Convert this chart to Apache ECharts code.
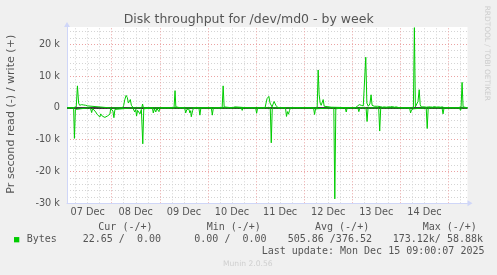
<!DOCTYPE html>
<html><head><meta charset="utf-8">
<script src="https://cdn.jsdelivr.net/npm/echarts@6/dist/echarts.min.js"></script>
<style>html,body{margin:0;padding:0;background:#f0f0f0;}#c{width:497px;height:275px;}</style>
</head><body><div id="c"></div>
<script>
// ---- text ----
const titleText = 'Disk throughput for /dev/md0 - by week';
const yAxisTitle = 'Pr second read (-) / write (+)';
const dayLabels = ['07 Dec','08 Dec','09 Dec','10 Dec','11 Dec','12 Dec','13 Dec','14 Dec'];
const dayLabelHours = [12,36,60,84,108,132,156,180]; // hours since 07 Dec 00:00 (label at noon)
const legendName = 'Bytes';
const legendHeaders = ['Cur (-/+)','Min (-/+)','Avg (-/+)','Max (-/+)'];
const legendValues = ['22.65 /  0.00','0.00 /  0.00','505.86 /376.52','173.12k/ 58.88k'];
const lastUpdate = 'Last update: Mon Dec 15 09:00:07 2025';
const muninVersion = 'Munin 2.0.56';
const rrdWatermark = 'RRDTOOL / TOBI OETIKER';

// ---- data (x: hours since 07 Dec 00:00, y: bytes per second) ----
const writeHours = [1.7,2.5,3.5,4.0,4.5,6.3,6.9,7.5,8.0,8.5,9.0,9.5,10.0,10.5,11.0,11.5,12.0,12.5,
 23.0,23.5,24.0,
 29.5,30.0,30.5,31.2,31.8,32.3,32.8,33.3,33.8,34.3,34.8,
 39.0,39.4,39.8,
 52.0,52.2,52.6,
 55.1,55.6,56.0,56.5,57.0,57.5,58.0,
 79.1,79.6,80.1,80.6,
 84.0,84.5,85.5,86.0,
 92.2,92.5,92.8,
 100.5,101.0,101.5,102.0,102.4,103.0,103.4,104.0,104.5,105.0,105.4,105.9,106.6,107.0,
 115.0,115.5,116.0,
 126.5,127.0,127.5,128.0,128.5,129.0,129.5,130.0,130.5,133.5,134.0,
 145.5,146.0,146.5,147.0,147.5,148.0,148.5,149.0,149.5,150.3,150.75,151.3,152.0,152.8,153.4,153.9,154.5,155.0,155.5,156.5,157.0,158.0,159.0,160.0,161.0,162.0,163.0,164.0,165.0,166.0,167.0,168.0,
 174.5,175.0,175.5,176.0,176.8,177.4,177.9,178.4,179.0,180.0,181.0,182.0,183.0,184.0,185.0,186.0,187.0,188.0,189.0,190.0,
 192.0,192.5,193.0,195.5,196.0,196.5,
 198.3,198.8,199.3,199.8,201.5];
const writeValues = [0,200,0,500,0,300,6900,1500,800,400,1000,600,900,400,800,300,600,0,
 0,600,0,
 0,800,2500,3900,3200,1500,1200,2600,800,400,0,
 0,1200,0,
 0,300,0,
 0,5400,300,500,200,400,0,
 0,6900,300,0,
 0,300,300,0,
 0,300,0,
 0,1500,2900,3200,3600,1500,1000,300,500,2000,2300,800,300,0,
 0,300,0,
 0,11900,4100,1500,800,1200,2600,500,200,200,0,
 0,300,500,800,1000,600,800,400,600,1000,15900,1500,500,1200,4100,800,300,500,300,500,300,400,200,300,200,300,300,400,200,300,100,0,
 0,25200,300,500,2000,5700,1000,300,500,300,200,300,300,200,400,200,300,200,300,0,
 0,300,0,0,300,0,
 300,8000,300,0,0];

const readHours = [1.7,5.0,5.4,5.9,6.4,
 12.5,13.5,14.0,14.5,15.2,16.0,16.8,17.2,17.7,18.1,18.5,18.9,19.3,19.8,20.2,20.6,21.0,21.4,21.8,22.2,22.7,23.1,23.5,24.0,24.6,25.1,25.6,26.0,
 34.5,35.5,36.0,36.4,36.9,37.4,38.1,38.8,39.0,39.5,40.0,40.5,
 44.3,44.75,45.3,46.0,46.5,47.0,47.6,48.0,
 55.4,55.9,56.4,
 60.4,60.9,61.5,62.0,62.5,63.0,63.4,63.7,64.4,64.9,
 67.5,68.0,68.5,
 73.7,74.2,74.7,
 85.3,85.8,86.3,
 88.6,89.1,89.6,
 95.8,96.3,96.8,
 103.1,103.6,104.1,
 110.7,111.2,111.7,112.2,112.7,113.2,
 124.7,125.2,125.7,126.2,
 134.8,135.3,135.8,136.3,
 140.5,141.0,141.5,
 146.8,147.3,147.8,
 150.9,151.4,151.9,
 157.2,157.7,158.2,
 162.6,163.1,163.6,
 172.6,173.1,173.6,174.1,174.6,175.1,
 180.9,181.4,181.9,
 188.8,189.3,189.8,
 197.5,198.0,198.5,201.5];
const readValues = [0,0,-9600,-500,0,
 0,-300,-1500,-200,-500,-1300,-2100,-2600,-2300,-2900,-1900,-2400,-2600,-2900,-2300,-3000,-2900,-2600,-2600,-3000,-2900,-2000,-200,0,-1000,-3100,-500,0,
 0,-1300,-500,-2600,-800,-1300,-1900,-500,0,-11300,-300,0,
 0,-1600,-300,-1300,-200,-800,-1200,0,
 0,-500,0,
 0,-1600,-500,-1000,-400,-1600,-900,-2800,-800,0,
 0,-2300,0,
 0,-2300,0,
 0,-600,0,
 0,-800,0,
 0,-1700,0,
 0,-11000,0,
 0,-2700,-1200,-2000,-800,0,
 0,-2100,-300,0,
 0,-28600,-300,0,
 0,-1300,0,
 0,-1200,0,
 0,-4300,0,
 0,-7300,0,
 0,-500,0,
 0,-1600,-600,-1000,-300,0,
 0,-6500,0,
 0,-1900,0,
 0,-800,0,0];

// ---- axis ranges ----
const xMin = 1.7, xMax = 201.5;
const yMin = -30000, yMax = 25400;

const GREEN = '#00cc00', TXT = '#555', AXIS = '#CFD6F8';
const minorX = [], majorX = [];
for (let h = 6; h < xMax; h += 6) { if (h > xMin) (h % 24 === 0 ? majorX : minorX).push(h); }

const chart = echarts.init(document.getElementById('c'), null, {renderer:'canvas'});
const mono = '"DejaVu Sans Mono"';
const sans = '"DejaVu Sans"';
const gText = (x, y, text, font, fill, extra) => Object.assign({
  type:'text', x:x, y:y, silent:true, z:100,
  style:{text:text, font:font, fill:fill, textAlign:'left', textVerticalAlign:'middle'}
}, extra || {});
const legendX = [98.3, 206.7, 315, 422.7];
const valueX = [82.7, 194.3, 287.7, 392.7];
const graphics = [
  gText(248.7, 19.3, titleText, '12.5px ' + sans, TXT, {style:{text:titleText, font:'12.5px ' + sans, fill:TXT, textAlign:'center', textVerticalAlign:'middle'}}),
  {type:'text', x:10.8, y:114.2, rotation:Math.PI/2, silent:true, z:100,
   style:{text:yAxisTitle, font:'11.1px ' + sans, fill:TXT, textAlign:'center', textVerticalAlign:'middle'}},
  {type:'text', x:487.3, y:53.3, rotation:-Math.PI/2, silent:true, z:100,
   style:{text:rrdWatermark, font:'7.4px ' + sans, fill:'#cccccc', textAlign:'center', textVerticalAlign:'middle'}},
  gText(223, 264.3, muninVersion, '7.6px ' + sans, '#cfcfcf'),
  gText(261.7, 251, lastUpdate, '10px ' + mono, TXT)
];
legendHeaders.forEach((t, i) => graphics.push(gText(legendX[i], 227.7, t, '10px ' + mono, TXT)));
legendValues.forEach((t, i) => graphics.push(gText(valueX[i], 239.7, t, '10px ' + mono, TXT)));

const noLabel = {show:false};
chart.setOption({
  animation:false,
  backgroundColor:'#f0f0f0',
  grid:{left:67, top:27, width:400.5, height:176.3, show:true, backgroundColor:'#ffffff', borderWidth:0},
  legend:{data:[legendName], left:14, top:233.7, padding:0, icon:'rect', itemWidth:5.3, itemHeight:5.3, itemGap:0,
    selectedMode:false, itemStyle:{borderWidth:0},
    textStyle:{fontFamily:'DejaVu Sans Mono', fontSize:10, color:TXT, padding:[0,0,0,2.4], lineHeight:12}},
  xAxis:{type:'value', min:xMin, max:xMax, z:7,
    axisLine:{onZero:false, lineStyle:{color:AXIS, width:1}, symbol:['none','triangle'], symbolSize:[6,5], symbolOffset:[0,2.5]},
    axisTick:{show:false}, splitLine:{show:false},
    axisLabel:{customValues:dayLabelHours, formatter:v => dayLabels[dayLabelHours.indexOf(v)] || '',
      color:TXT, fontFamily:'DejaVu Sans', fontSize:9.72, margin:4}},
  yAxis:[
    {type:'value', min:yMin, max:yMax, interval:10000, z:3,
      axisLine:{show:true, onZero:false, lineStyle:{color:AXIS, width:1}, symbol:['none','triangle'], symbolSize:[6,5], symbolOffset:[0,2.5]},
      axisTick:{show:false},
      axisLabel:{showMaxLabel:false, color:TXT, fontFamily:'DejaVu Sans', fontSize:9.72, margin:7,
        formatter:v => (v % 10000 !== 0) ? '' : (v === 0 ? '0' : (v/1000) + ' k')},
      splitLine:{show:true, showMinLine:false, showMaxLine:false, lineStyle:{color:'#eba3a3', type:[1,2], width:1}}},
    {type:'value', min:yMin, max:yMax, interval:2000, z:1,
      axisLine:{show:false}, axisTick:{show:false}, axisLabel:{show:false},
      splitLine:{show:true, showMinLine:false, showMaxLine:false, lineStyle:{color:'#d4d4d4', type:[1,2], width:1}}}
  ],
  graphic:{elements:graphics},
  series:[
    {name:'minorgrid', type:'line', data:[], z:2, silent:true,
      markLine:{symbol:'none', silent:true, animation:false, label:noLabel,
        lineStyle:{color:'#d4d4d4', type:[1,2], width:1}, data:minorX.map(h => ({xAxis:h}))}},
    {name:'majorgrid', type:'line', data:[], z:4, silent:true,
      markLine:{symbol:'none', silent:true, animation:false, label:noLabel,
        lineStyle:{color:'#eba3a3', type:[1,2], width:1}, data:majorX.map(h => ({xAxis:h}))}},
    {name:legendName, type:'line', z:5, showSymbol:false, symbol:'none',
      data:writeHours.map((h, i) => [h, writeValues[i]]),
      lineStyle:{color:GREEN, width:1}, itemStyle:{color:GREEN}},
    {name:'read', type:'line', z:5, showSymbol:false, symbol:'none',
      data:readHours.map((h, i) => [h, readValues[i]]),
      lineStyle:{color:GREEN, width:1}, itemStyle:{color:GREEN}},
    {name:'zero', type:'line', data:[], z:6, silent:true,
      markLine:{symbol:'none', silent:true, animation:false, label:noLabel,
        lineStyle:{color:'#000000', type:'solid', width:1.5}, data:[{yAxis:0}]}}
  ]
});
</script></body></html>
